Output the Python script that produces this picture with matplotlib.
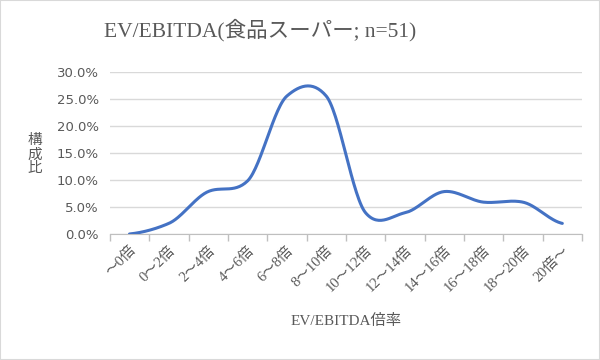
import numpy as np
import matplotlib
matplotlib.use("Agg")
import matplotlib.pyplot as plt
from matplotlib.patches import Rectangle

plt.rcParams['font.family'] = ['Liberation Serif', 'Noto Sans CJK JP', 'DejaVu Sans']

# data: share of companies per EV/EBITDA band (n=51)
categories = ['～0倍', '0～2倍', '2～4倍', '4～6倍', '6～8倍', '8～10倍',
              '10～12倍', '12～14倍', '14～16倍', '16～18倍', '18～20倍', '20倍～']
counts = [0, 1, 4, 5, 13, 13, 2, 2, 4, 3, 3, 1]
n_total = 51
shares = [c / n_total for c in counts]
yticks = [0.0, 0.05, 0.10, 0.15, 0.20, 0.25, 0.30]


def smooth_curve(y, steps=30, k=0.4):
    # Excel-like smoothed line (cardinal spline through each point)
    y = np.asarray(y, dtype=float)
    ext = np.concatenate([[y[0]], y, [y[-1]]])
    xs, ys = [], []
    for i in range(len(y) - 1):
        p0, p1, p2, p3 = ext[i], ext[i + 1], ext[i + 2], ext[i + 3]
        t = np.linspace(0, 1, steps, endpoint=False)
        m1 = (p2 - p0) * k
        m2 = (p3 - p1) * k
        h00 = 2 * t**3 - 3 * t**2 + 1
        h10 = t**3 - 2 * t**2 + t
        h01 = -2 * t**3 + 3 * t**2
        h11 = t**3 - t**2
        xs.append(i + t)
        ys.append(h00 * p1 + h10 * m1 + h01 * p2 + h11 * m2)
    xs.append([len(y) - 1])
    ys.append([y[-1]])
    return np.concatenate(xs), np.concatenate(ys)


fig = plt.figure(figsize=(6, 3.6), dpi=100)
ax = fig.add_axes([0.183, 0.35, 0.787, 0.451])

sx, sy = smooth_curve(shares)
ax.plot(sx, sy, color='#4472C4', lw=2.2, solid_capstyle='round', zorder=3)

ax.set_xlim(-0.5, len(categories) - 0.5)
ax.set_ylim(0, 0.30)
ax.set_yticks(yticks)
ax.set_yticklabels([f'{v*100:.1f}%' for v in yticks], color='#595959', fontsize=9.5,
                   family=['DejaVu Sans'])
ax.tick_params(axis='y', length=0, pad=8)
ax.yaxis.grid(True, color='#d9d9d9', lw=1)
ax.set_axisbelow(True)

ax.set_xticks(range(len(categories)))
ax.set_xticklabels(categories, rotation=45, ha='right', va='top', rotation_mode='anchor',
                   color='#595959', fontsize=10.5)
ax.tick_params(axis='x', which='major', length=0, pad=7)
ax.set_xticks(np.arange(-0.5, len(categories), 1.0), minor=True)
ax.tick_params(axis='x', which='minor', length=5, color='#bfbfbf', width=1)

for s in ['top', 'right', 'left']:
    ax.spines[s].set_visible(False)
ax.spines['bottom'].set_color('#bfbfbf')

ax.set_xlabel('EV/EBITDA倍率', color='#595959', fontsize=11, labelpad=14)
fig.text(0.058, 0.57, '構\n成\n比', color='#595959', fontsize=10.5, ha='center', va='center',
         linespacing=1.1)
fig.text(0.433, 0.915, 'EV/EBITDA(食品スーパー; n=51)', color='#595959', fontsize=15.5,
         ha='center', va='center')

fig.patches.append(Rectangle((0, 0), 1, 1, transform=fig.transFigure, fill=False,
                             edgecolor='#d9d9d9', lw=1.5))

fig.savefig('out.png', dpi=100)
